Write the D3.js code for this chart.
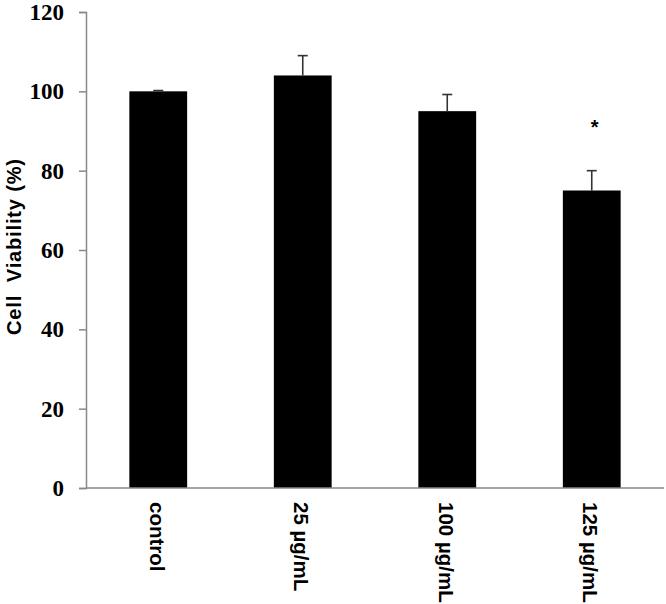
<!DOCTYPE html>
<html>
<head>
<meta charset="utf-8">
<script src="https://cdn.jsdelivr.net/npm/d3@7"></script>
<style>
  body { margin: 0; background: #fff; }
  svg { display: block; }
  .serif { font-family: "Liberation Serif", "Times New Roman", serif; font-weight: bold; }
  .sans { font-family: "Liberation Sans", Arial, sans-serif; font-weight: bold; }
</style>
</head>
<body>
<div id="chart"></div>
<script>
// data
const groups = ["control", "25 \u00b5g/mL", "100 \u00b5g/mL", "125 \u00b5g/mL"];
const viability = [100, 104, 95, 75];
const errors = [0.2, 5, 4.2, 5];
const significant = [false, false, false, true];
const yTicks = [0, 20, 40, 60, 80, 100, 120];

const width = 666, height = 604;
const margin = {top: 12, right: 2, bottom: 116, left: 86};

const svg = d3.select("#chart").append("svg")
  .attr("width", width)
  .attr("height", height);

const x = d3.scaleBand()
  .domain(groups)
  .range([margin.left, width - margin.right])
  .paddingInner(0.6)
  .paddingOuter(0.3);

const y = d3.scaleLinear()
  .domain([0, 120])
  .range([height - margin.bottom, margin.top]);

// bars
svg.append("g")
  .selectAll("rect")
  .data(groups)
  .join("rect")
  .attr("x", d => x(d))
  .attr("y", (d, i) => y(viability[i]))
  .attr("width", x.bandwidth())
  .attr("height", (d, i) => y(0) - y(viability[i]))
  .attr("fill", "#000");

// error bars (upper only)
const err = svg.append("g")
  .attr("stroke", "#333")
  .attr("stroke-width", 1.6);

groups.forEach((g, i) => {
  const cx = x(g) + x.bandwidth() / 2;
  const top = y(viability[i] + errors[i]);
  err.append("line")
    .attr("x1", cx).attr("x2", cx)
    .attr("y1", y(viability[i])).attr("y2", top);
  err.append("line")
    .attr("x1", cx - 5).attr("x2", cx + 5)
    .attr("y1", top).attr("y2", top);
});

// significance marker
svg.append("g")
  .selectAll("text")
  .data(groups.filter((g, i) => significant[i]))
  .join("text")
  .attr("class", "sans")
  .attr("x", d => x(d) + x.bandwidth() / 2 + 3)
  .attr("y", d => y(viability[groups.indexOf(d)] + errors[groups.indexOf(d)]) - 37)
  .attr("text-anchor", "middle")
  .style("font-size", "20px")
  .text("*");

// y axis
const yAxis = svg.append("g")
  .attr("transform", `translate(${margin.left},0)`)
  .call(d3.axisLeft(y).tickValues(yTicks).tickSize(7).tickPadding(15));

yAxis.select(".domain").attr("stroke", "#888").attr("stroke-width", 1.5);
yAxis.selectAll(".tick line").attr("stroke", "#888").attr("stroke-width", 1.5);
yAxis.selectAll(".tick text")
  .attr("class", "serif")
  .attr("fill", "#000")
  .style("font-size", "23px");

// x axis line
svg.append("line")
  .attr("x1", margin.left)
  .attr("x2", width - margin.right)
  .attr("y1", y(0))
  .attr("y2", y(0))
  .attr("stroke", "#888")
  .attr("stroke-width", 1.5);

// x labels, rotated
svg.append("g")
  .selectAll("text")
  .data(groups)
  .join("text")
  .attr("class", "sans")
  .attr("transform", d => `translate(${x(d) + x.bandwidth() / 2 - 8.5},${y(0) + 14}) rotate(90)`)
  .style("font-size", "20.5px")
  .text(d => d);

// y title
svg.append("text")
  .attr("class", "sans")
  .attr("transform", `translate(21,247) rotate(-90)`)
  .attr("text-anchor", "middle")
  .attr("textLength", 176)
  .attr("lengthAdjust", "spacing")
  .style("font-size", "20px")
  .style("white-space", "pre")
  .text("Cell  Viability (%)");
</script>
</body>
</html>
